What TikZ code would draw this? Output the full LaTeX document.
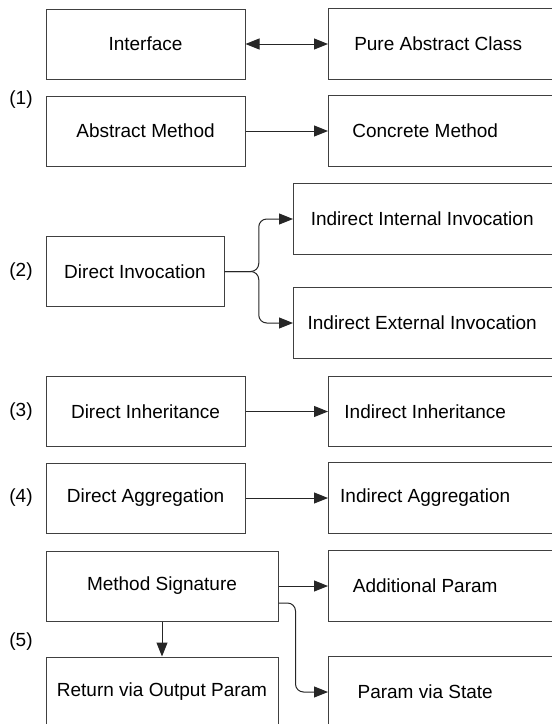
\documentclass[tikz,border=0pt]{standalone}
\usepackage{fontspec}
\setmainfont{Liberation Sans}
\usetikzlibrary{arrows.meta,calc}
\definecolor{boxgray}{HTML}{404040}
\tikzstyle{lbox}=[rectangle, draw=boxgray, line width=1pt, minimum height=70pt, inner sep=0pt]
\tikzstyle{rbox}=[rectangle, anchor=west, minimum width=194pt, minimum height=70pt, inner sep=0pt]
\tikzstyle{tag}=[inner sep=0pt]
\tikzstyle{conn}=[-{Triangle[length=14pt,width=11pt]}, line width=1pt, draw=black!85]

\begin{document}
\begin{tikzpicture}[x=1pt, y=-1pt, font=\fontsize{19}{22}\selectfont]

\useasboundingbox (0,0) rectangle (552,724);
\clip (0,0) rectangle (552,724);

% left column
\node [lbox, minimum width=199pt] (itf) at (145.5, 44) {Interface};
\node [lbox, minimum width=199pt] (am) at (145.5, 131) {Abstract Method};
\node [lbox, minimum width=178pt] (di) at (135, 271.5) {Direct Invocation};
\node [lbox, minimum width=199pt] (dinh) at (145.5, 411.5) {Direct Inheritance};
\node [lbox, minimum width=199pt] (dagg) at (145.5, 498) {Direct Aggregation};
\node [lbox, minimum width=232pt] (ms) at (162, 586) {Method Signature};
\node [lbox, minimum width=232pt] (rop) at (162, 692) {Return via Output Param};

% right column (boxes run past the edge)
\node [rbox, minimum width=220pt] (pac) at (328, 44) {Pure Abstract Class};
\node [rbox] (cm) at (328, 131) {Concrete Method};
\node [rbox, minimum width=258pt] (iii) at (293, 219) {Indirect Internal Invocation};
\node [rbox, minimum width=258pt] (iei) at (293, 323) {Indirect External Invocation};
\node [rbox] (ii) at (328, 411.5) {Indirect Inheritance};
\node [rbox] (ia) at (328, 498) {Indirect Aggregation};
\node [rbox] (ap) at (328, 586) {Additional Param};
\node [rbox] (pvs) at (328, 692) {Param via State};

\foreach \n in {pac, cm, iii, iei, ii, ia, ap, pvs}
  \draw [boxgray, line width=1pt] (\n.north west) rectangle ([xshift=40pt]\n.south east);

% group tags
\node [tag] (t1) at (21, 100) {(1)};
\node [tag] (t2) at (21, 272) {(2)};
\node [tag] (t3) at (21, 411.5) {(3)};
\node [tag] (t4) at (21, 498) {(4)};
\node [tag] (t5) at (21, 642) {(5)};

\draw [conn, {Triangle[length=14pt,width=11pt]}-{Triangle[length=14pt,width=11pt]}] (itf.east) -- (pac.west);
\draw [conn] (am.east) -- (cm.west);

\draw [conn, rounded corners=8pt] (di.east) -- ($(di.east)!.5!(iii.west |- di.east)$) |- (iii.west);
\draw [conn, rounded corners=8pt] (di.east) -- ($(di.east)!.5!(iei.west |- di.east)$) |- (iei.west);

\draw [conn] (dinh.east) -- (ii.west);
\draw [conn] (dagg.east) -- (ia.west);

\draw [conn] (ms.east) -- (ap.west);
\draw [conn, rounded corners=8pt] ([yshift=-17pt]ms.east) -- ([xshift=17pt, yshift=-17pt]ms.east) |- (pvs.west);
\draw [conn] (ms.south) -- (rop.north);

\end{tikzpicture}
\end{document}
